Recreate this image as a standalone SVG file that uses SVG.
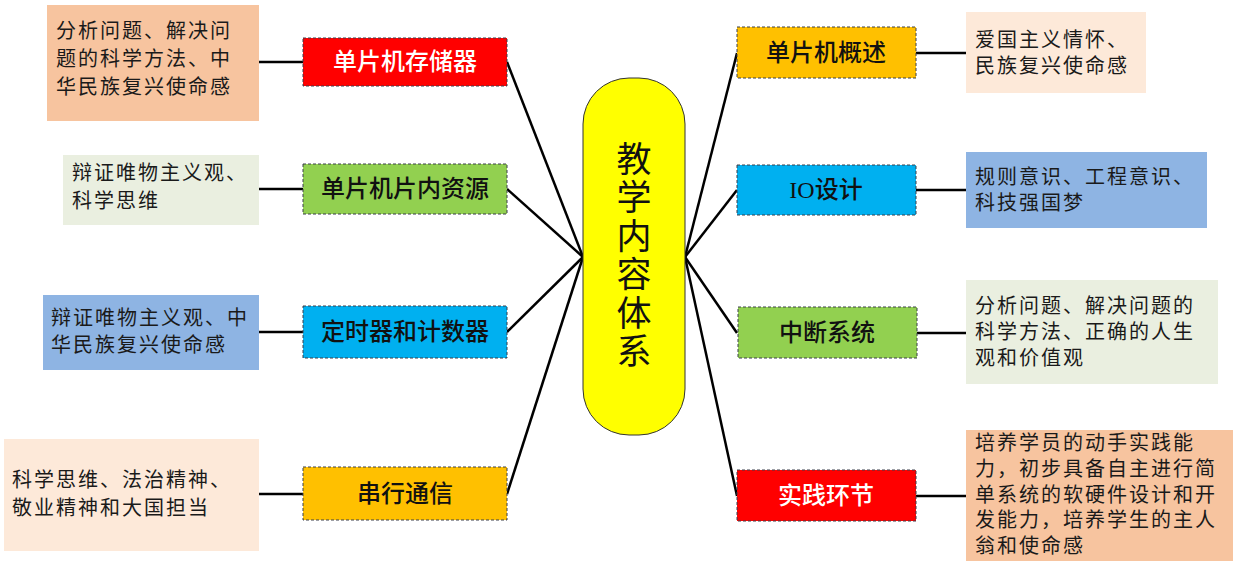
<svg xmlns="http://www.w3.org/2000/svg" width="1238" height="567" viewBox="0 0 1238 567">
<style>
.bg{fill:#ffffff}
.note{stroke:none}
.node{stroke:#3a3f4a;stroke-width:1;stroke-dasharray:3 2}
.t{font-family:"Liberation Serif","Noto Sans CJK SC",serif;font-size:20px;letter-spacing:2px;fill:#1a1a1a}
.n{font-family:"Liberation Serif","Noto Sans CJK SC",serif;font-size:24px;text-anchor:middle;dominant-baseline:central;font-weight:500}
.c{font-family:"Liberation Serif","Noto Sans CJK SC",serif;font-size:35px;text-anchor:middle;dominant-baseline:central;fill:#111}
.ln{stroke:#000;stroke-width:2.5;fill:none}
</style>
<rect class="bg" x="0" y="0" width="1238" height="567"/>

<g id="connectors">
<line class="ln" x1="583" y1="257" x2="507" y2="62"/>
<line class="ln" x1="583" y1="257" x2="507" y2="189"/>
<line class="ln" x1="583" y1="257" x2="507" y2="332"/>
<line class="ln" x1="583" y1="257" x2="507" y2="494"/>
<line class="ln" x1="685" y1="257" x2="737" y2="53"/>
<line class="ln" x1="685" y1="257" x2="737" y2="190"/>
<line class="ln" x1="685" y1="257" x2="737" y2="333"/>
<line class="ln" x1="685" y1="257" x2="737" y2="496"/>
<line class="ln" x1="259" y1="62" x2="303" y2="62"/>
<line class="ln" x1="259" y1="189" x2="303" y2="189"/>
<line class="ln" x1="259" y1="332" x2="303" y2="332"/>
<line class="ln" x1="259" y1="494" x2="303" y2="494"/>
<line class="ln" x1="916" y1="53" x2="967" y2="53"/>
<line class="ln" x1="916" y1="190" x2="967" y2="190"/>
<line class="ln" x1="916" y1="333" x2="967" y2="333"/>
<line class="ln" x1="916" y1="496" x2="967" y2="496"/>
</g>

<g id="center">
<rect x="583" y="78" width="102" height="357" rx="46" ry="46" fill="#FFFF00" stroke="#333" stroke-width="1"/>
<text class="c" x="634" y="160">教</text>
<text class="c" x="634" y="198">学</text>
<text class="c" x="634" y="237">内</text>
<text class="c" x="634" y="275">容</text>
<text class="c" x="634" y="314">体</text>
<text class="c" x="634" y="352">系</text>
</g>

<g id="node-l1">
<rect class="node" x="303" y="38" width="204" height="48" fill="#FF0000"/>
<text class="n" x="405" y="62" fill="#ffffff">单片机存储器</text>
</g>
<g id="note-l1">
<rect class="note" x="47" y="5" width="212" height="116" fill="#F7C49F"/>
<text class="t" x="56" y="38">分析问题、解决问</text>
<text class="t" x="56" y="66">题的科学方法、中</text>
<text class="t" x="56" y="94">华民族复兴使命感</text>
</g>

<g id="node-l2">
<rect class="node" x="303" y="164" width="204" height="50" fill="#92D050"/>
<text class="n" x="405" y="189" fill="#111">单片机片内资源</text>
</g>
<g id="note-l2">
<rect class="note" x="63" y="155" width="196" height="70" fill="#EAEFE0"/>
<text class="t" x="72" y="180">辩证唯物主义观、</text>
<text class="t" x="72" y="208">科学思维</text>
</g>

<g id="node-l3">
<rect class="node" x="303" y="306" width="204" height="52" fill="#00B0F0"/>
<text class="n" x="405" y="332" fill="#111">定时器和计数器</text>
</g>
<g id="note-l3">
<rect class="note" x="43" y="295" width="216" height="75" fill="#8EB4E3"/>
<text class="t" x="51" y="325">辩证唯物主义观、中</text>
<text class="t" x="51" y="352">华民族复兴使命感</text>
</g>

<g id="node-l4">
<rect class="node" x="303" y="467" width="204" height="53" fill="#FFC000"/>
<text class="n" x="405" y="494" fill="#111">串行通信</text>
</g>
<g id="note-l4">
<rect class="note" x="4" y="439" width="255" height="112" fill="#FDE9D9"/>
<text class="t" x="12" y="487">科学思维、法治精神、</text>
<text class="t" x="12" y="515">敬业精神和大国担当</text>
</g>

<g id="node-r1">
<rect class="node" x="737" y="27" width="179" height="51" fill="#FFC000"/>
<text class="n" x="826" y="53" fill="#111">单片机概述</text>
</g>
<g id="note-r1">
<rect class="note" x="966" y="12" width="180" height="81" fill="#FDE9D9"/>
<text class="t" x="975" y="47">爱国主义情怀、</text>
<text class="t" x="975" y="73">民族复兴使命感</text>
</g>

<g id="node-r2">
<rect class="node" x="737" y="165" width="179" height="50" fill="#00B0F0"/>
<text class="n" x="826" y="190" fill="#111">IO设计</text>
</g>
<g id="note-r2">
<rect class="note" x="966" y="152" width="241" height="76" fill="#8EB4E3"/>
<text class="t" x="975" y="184">规则意识、工程意识、</text>
<text class="t" x="975" y="210">科技强国梦</text>
</g>

<g id="node-r3">
<rect class="node" x="738" y="307" width="179" height="51" fill="#92D050"/>
<text class="n" x="827" y="333" fill="#111">中断系统</text>
</g>
<g id="note-r3">
<rect class="note" x="966" y="280" width="252" height="104" fill="#EAEFE0"/>
<text class="t" x="975" y="313">分析问题、解决问题的</text>
<text class="t" x="975" y="339">科学方法、正确的人生</text>
<text class="t" x="975" y="365">观和价值观</text>
</g>

<g id="node-r4">
<rect class="node" x="737" y="470" width="179" height="51" fill="#FF0000"/>
<text class="n" x="826" y="496" fill="#ffffff">实践环节</text>
</g>
<g id="note-r4">
<rect class="note" x="966" y="430" width="267" height="131" fill="#F7C49F"/>
<text class="t" x="975" y="450">培养学员的动手实践能</text>
<text class="t" x="975" y="476">力，初步具备自主进行简</text>
<text class="t" x="975" y="502">单系统的软硬件设计和开</text>
<text class="t" x="975" y="527">发能力，培养学生的主人</text>
<text class="t" x="975" y="553">翁和使命感</text>
</g>
</svg>
